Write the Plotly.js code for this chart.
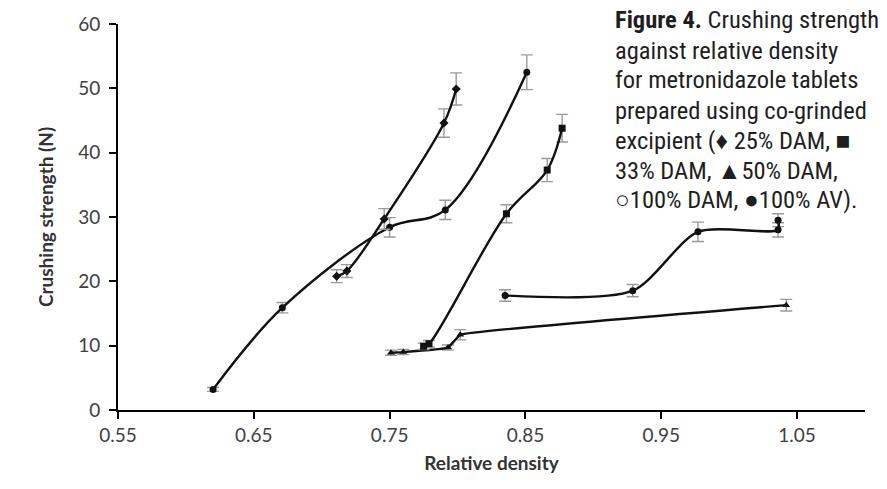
<!DOCTYPE html>
<html>
<head>
<meta charset="utf-8">
<script src="https://cdn.plot.ly/plotly-3.0.1.min.js"></script>
<style>
  html, body { margin: 0; padding: 0; background: #fff; }
  #chart { width: 887px; height: 489px; }
</style>
</head>
<body>
<div id="chart"></div>
<script>
// Series A (100% DAM)
const xA = [0.620, 0.671, 0.750, 0.791, 0.851];
const yA = [3.2, 15.9, 28.4, 31.1, 52.5];
const eA = [0.3, 0.8, 1.5, 1.5, 2.7];
// Series B (25% DAM)
const xB = [0.711, 0.7185, 0.746, 0.790, 0.799];
const yB = [20.8, 21.6, 29.7, 44.6, 49.9];
const eB = [1.0, 1.0, 1.6, 2.2, 2.5];
// Series C (50% DAM)
const xC = [0.751, 0.760, 0.793, 0.802, 1.042];
const yC = [8.9, 9.0, 9.7, 11.7, 16.3];
const eC = [0.4, 0.4, 0.4, 0.8, 0.9];
// Series D (33% DAM)
const xD = [0.775, 0.779, 0.836, 0.866, 0.877];
const yD = [9.9, 10.3, 30.5, 37.3, 43.8];
const eD = [0.5, 0.5, 1.4, 1.8, 2.15];
// Series E (100% AV)
const xE = [0.835, 0.929, 0.977, 1.036, 1.036];
const yE = [17.8, 18.55, 27.7, 28.0, 29.5];
const eE = [0.9, 0.95, 1.5, 1.1, 1.0];

const xTicks = [0.55, 0.65, 0.75, 0.85, 0.95, 1.05];
const yTicks = [0, 10, 20, 30, 40, 50, 60];

const captionLines = [
  "<b>Figure 4.</b> Crushing strength",
  "against relative density",
  "for metronidazole tablets",
  "prepared using co-grinded",
  "excipient (\u2666 25% DAM, \u25A0",
  "33% DAM, \u25B250% DAM,",
  "\u25CB100% DAM, \u25CF100% AV)."
];

function series(x, y, e, sym, name, smooth) {
  return {
    x: x, y: y, name: name, type: 'scatter', mode: 'lines+markers',
    line: { color: '#111', width: 2.4, shape: 'spline', smoothing: smooth },
    marker: { color: '#111', size: 7, symbol: sym },
    error_y: { type: 'data', array: e, visible: true, color: '#9a9a9a', thickness: 1.4, width: 6 },
    showlegend: false
  };
}

const data = [
  series(xA, yA, eA, 'circle', '100% DAM', 1),
  series(xB, yB, eB, 'diamond', '25% DAM', 1),
  series(xC, yC, eC, 'triangle-up', '50% DAM', 0.2),
  series(xD, yD, eD, 'square', '33% DAM', 1),
  series(xE, yE, eE, 'circle', '100% AV', 0.75)
];

const tickFont = { family: 'Lato, Carlito, Calibri, sans-serif', size: 19, color: '#404040' };
const titleFont = { family: 'Lato, Carlito, Calibri, sans-serif', size: 19, color: '#333', weight: 'bold' };

// plot area in pixels: x 118..865, y 24..410
const captionAnnotations = captionLines.map((t, i) => ({
  xref: 'paper', yref: 'paper',
  x: (613 - 118) / 747, y: (410 - (20 + 30 * i)) / 386,
  xanchor: 'left', yanchor: 'middle', align: 'left',
  showarrow: false,
  text: t,
  font: { family: '"Roboto Condensed", "Liberation Sans Narrow", "Arial Narrow", sans-serif', size: 24.5, color: '#1e1e1e' }
}));

const layout = {
  width: 887, height: 489,
  margin: { l: 118, r: 22, t: 24, b: 79 },
  paper_bgcolor: '#fff', plot_bgcolor: '#fff',
  xaxis: {
    range: [0.55, 1.10],
    tickvals: xTicks, ticktext: xTicks.map(v => v.toFixed(2)),
    showline: true, linecolor: '#000', linewidth: 2,
    ticks: 'outside', ticklen: 7, tickwidth: 2, tickcolor: '#000',
    showgrid: false, zeroline: false,
    tickfont: tickFont,
    title: { text: '<b>Relative density</b>', font: titleFont, standoff: 12 }
  },
  yaxis: {
    range: [0, 60],
    tickvals: yTicks,
    showline: true, linecolor: '#000', linewidth: 2,
    ticks: 'outside', ticklen: 7, tickwidth: 2, tickcolor: '#000',
    ticklabelstandoff: 5,
    showgrid: false, zeroline: false,
    tickfont: tickFont,
    title: { text: '<b>Crushing strength (N)</b>', font: titleFont, standoff: 20 }
  },
  annotations: captionAnnotations
};

Plotly.newPlot('chart', data, layout, { displayModeBar: false, staticPlot: true });
</script>
</body>
</html>
